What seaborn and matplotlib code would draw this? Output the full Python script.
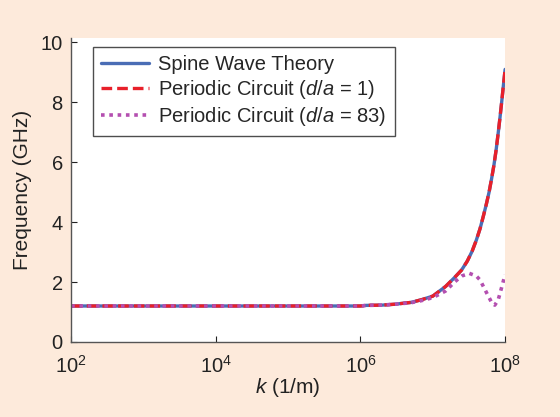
import matplotlib
matplotlib.use("Agg")
import matplotlib.pyplot as plt
import seaborn as sns
import pandas as pd

# values
k_theory = [1e2, 1e3, 1e4, 1e5, 1e6, 1.2e6, 2e6, 3e6, 5e6, 7e6, 1e7, 1.5e7, 2e7,
            2.5e7, 3e7, 3.5e7, 4e7, 4.5e7, 5e7, 5.5e7, 6e7, 6.5e7, 7e7, 7.5e7,
            8e7, 8.5e7, 9e7, 9.5e7, 1e8]
f_theory = [1.2, 1.2, 1.2, 1.2, 1.2, 1.22, 1.23, 1.26, 1.32, 1.41, 1.53, 1.85, 2.15,
            2.4, 2.7, 3.03, 3.4, 3.78, 4.2, 4.6, 5.0, 5.45, 5.9, 6.4,
            6.95, 7.5, 8.05, 8.6, 9.1]

k_d83 = [1e2, 1e3, 1e4, 1e5, 1e6, 1.2e6, 2e6, 3e6, 5e6, 7e6, 1e7, 1.5e7, 2e7,
         2.5e7, 3.2e7, 4e7, 4.5e7, 5.6e7, 6.6e7, 7.2e7, 8e7, 8.5e7, 1e8]
f_d83 = [1.2, 1.2, 1.2, 1.2, 1.2, 1.22, 1.23, 1.26, 1.31, 1.38, 1.48, 1.7, 2.0,
         2.2, 2.29, 2.2, 2.07, 1.62, 1.29, 1.23, 1.4, 1.62, 2.25]

labels = ["Spine Wave Theory", "Periodic Circuit ($d$/$a$ = 1)",
          "Periodic Circuit ($d$/$a$ = 83)"]

sns.set_style("ticks")
plt.rcParams["font.family"] = ["Liberation Sans", "DejaVu Sans"]
plt.rcParams["mathtext.fontset"] = "custom"
plt.rcParams["mathtext.rm"] = "Liberation Sans"
plt.rcParams["mathtext.it"] = "Liberation Sans:italic"

fig = plt.figure(figsize=(5.6, 4.17), dpi=100, facecolor="#fdeadb")
ax = fig.add_axes([0.127, 0.180, 0.775, 0.729])
ax.set_facecolor("white")

theory = pd.DataFrame({"k": k_theory, "f": f_theory})
d83 = pd.DataFrame({"k": k_d83, "f": f_d83})

sns.lineplot(data=theory, x="k", y="f", ax=ax, color="#4a6db5", lw=2.4,
             label=labels[0])
sns.lineplot(data=theory, x="k", y="f", ax=ax, color="#e8202a", lw=2.4,
             linestyle=(0, (3.2, 1.5)), label=labels[1])
sns.lineplot(data=d83, x="k", y="f", ax=ax, color="#b44fb0", lw=2.6,
             linestyle=(0, (1, 1.3)), label=labels[2])

ax.set_xscale("log")
ax.set_xlim(1e2, 1e8)
ax.set_ylim(0, 10.15)
ax.set_xticks([1e2, 1e4, 1e6, 1e8])
ax.set_xticklabels(["$10^2$", "$10^4$", "$10^6$", "$10^8$"])
ax.xaxis.set_minor_locator(matplotlib.ticker.NullLocator())
ax.set_yticks([0, 2, 4, 6, 8, 10])
ax.tick_params(direction="in", length=4, labelsize=14.5, colors="#222222")
ax.tick_params(axis="y", pad=6)
ax.tick_params(axis="x", pad=9)
for s in ["top", "right"]:
    ax.spines[s].set_visible(False)
for s in ["left", "bottom"]:
    ax.spines[s].set_color("#555555")
    ax.spines[s].set_linewidth(1)

ax.set_xlabel("$k$ (1/m)", fontsize=15, color="#222222", labelpad=0)
ax.set_ylabel("Frequency (GHz)", fontsize=15, color="#222222", labelpad=6)

leg = ax.legend(loc="upper left", bbox_to_anchor=(0.05, 0.97), fontsize=14.5,
                frameon=True, fancybox=False, handlelength=2.4,
                handletextpad=0.45, borderpad=0.4, labelspacing=0.2,
                borderaxespad=0)
leg.get_frame().set_edgecolor("#222222")
leg.get_frame().set_linewidth(1)

fig.savefig("out.png", dpi=100, facecolor=fig.get_facecolor())
